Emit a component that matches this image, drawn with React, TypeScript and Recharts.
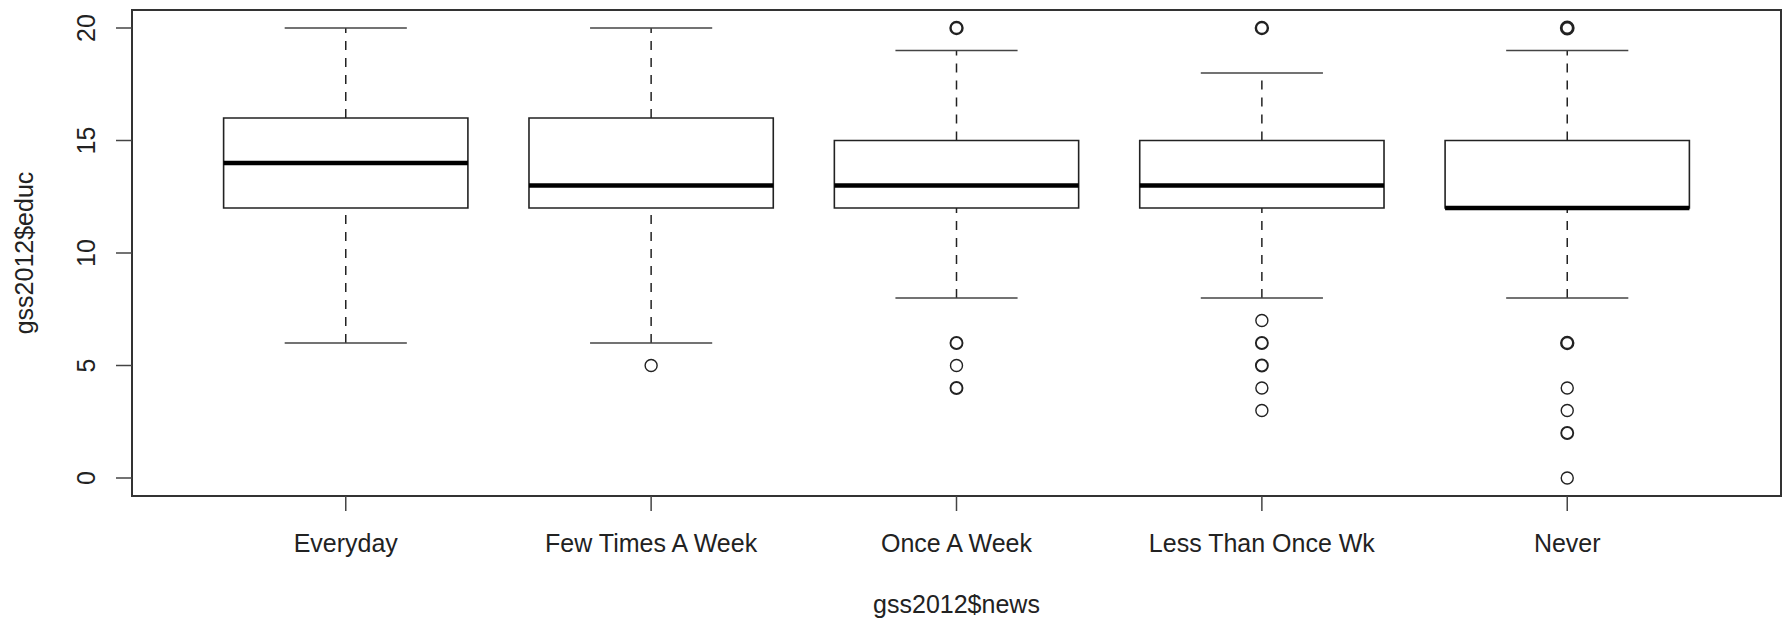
import React from 'react';
import {
  ComposedChart,
  XAxis,
  YAxis,
  Scatter,
  ReferenceArea,
  ReferenceLine,
} from 'recharts';

// five-number summaries
const categories = ['Everyday', 'Few Times A Week', 'Once A Week', 'Less Than Once Wk', 'Never'];
const lowerWhisker = [6, 6, 8, 8, 8];
const q1 = [12, 12, 12, 12, 12];
const medians = [14, 13, 13, 13, 12];
const q3 = [16, 16, 15, 15, 15];
const upperWhisker = [20, 20, 19, 18, 19];
const outliers = [[], [5], [20, 6, 5, 4], [20, 7, 6, 5, 4, 3], [20, 6, 4, 3, 2, 0]];
// how many points sit on top of each other (darker circle)
const outlierCounts = [[], [1], [3, 2, 1, 2], [3, 1, 2, 2, 1, 1], [4, 3, 1, 1, 2, 1]];
const yTicks = [0, 5, 10, 15, 20];

const FONT = '"Liberation Sans", Arial, Helvetica, sans-serif';
const INK = '#222';

const outlierPoints = outliers.flatMap((vals, i) =>
  vals.map((v, j) => ({ x: i + 1, y: v, n: outlierCounts[i][j] }))
);

const OutlierDot = (props: any) => {
  const { cx, cy, payload } = props;
  if (cx == null || cy == null) return null;
  const w = Math.min(1.4 + 0.5 * (payload.n - 1), 2.8);
  return <circle cx={cx} cy={cy} r={6} fill="none" stroke={INK} strokeWidth={w} />;
};

const YTick = (props: any) => {
  const { x, y, payload } = props;
  return (
    <text
      x={x}
      y={y}
      transform={`rotate(-90 ${x} ${y})`}
      textAnchor="middle"
      fontSize={25}
      fontFamily={FONT}
      fill={INK}
    >
      {payload.value}
    </text>
  );
};

export default function App() {
  return (
    <div style={{ width: 1787, height: 619, background: '#fff' }}>
      <style>{'body{margin:0;background:#fff}'}</style>
      <ComposedChart
        width={1787}
        height={619}
        margin={{ top: 10, right: 6, bottom: 0, left: 0 }}
        style={{ fontFamily: FONT }}
      >
        <XAxis
          type="number"
          dataKey="x"
          domain={[0.3, 5.7]}
          ticks={[1, 2, 3, 4, 5]}
          interval={0}
          height={123}
          tickFormatter={(v: number) => categories[v - 1]}
          axisLine={false}
          tickLine={{ stroke: '#444', strokeWidth: 1.5 }}
          tickSize={15}
          tickMargin={23}
          tick={{ fontSize: 25, fill: INK, fontFamily: FONT }}
          label={(p: any) => {
            const vb = p.viewBox;
            return (
              <text
                x={vb.x + vb.width / 2}
                y={vb.y + 117}
                textAnchor="middle"
                fontSize={25}
                fontFamily={FONT}
                fill={INK}
              >
                gss2012$news
              </text>
            );
          }}
        />
        <YAxis
          type="number"
          dataKey="y"
          domain={[-0.8, 20.8]}
          ticks={yTicks}
          interval={0}
          width={132}
          axisLine={false}
          tickLine={{ stroke: '#444', strokeWidth: 1.5 }}
          tickSize={16}
          tickMargin={21}
          tick={<YTick />}
          label={(p: any) => {
            const vb = p.viewBox;
            const cy = vb.y + vb.height / 2;
            return (
              <text
                x={33}
                y={cy}
                transform={`rotate(-90 33 ${cy})`}
                textAnchor="middle"
                fontSize={25}
                fontFamily={FONT}
                fill={INK}
              >
                gss2012$educ
              </text>
            );
          }}
        />

        {/* plot frame */}
        <ReferenceArea
          x1={0.3}
          x2={5.7}
          y1={-0.8}
          y2={20.8}
          fill="none"
          fillOpacity={0}
          stroke="#333"
          strokeWidth={2}
          ifOverflow="visible"
        />

        {categories.map((c, i) => {
          const x = i + 1;
          return (
            <React.Fragment key={c}>
              <ReferenceLine
                segment={[{ x, y: q3[i] }, { x, y: upperWhisker[i] }]}
                stroke={INK}
                strokeWidth={1.5}
                strokeDasharray="9 8"
              />
              <ReferenceLine
                segment={[{ x, y: lowerWhisker[i] }, { x, y: q1[i] }]}
                stroke={INK}
                strokeWidth={1.5}
                strokeDasharray="9 8"
              />
              <ReferenceLine
                segment={[{ x: x - 0.2, y: upperWhisker[i] }, { x: x + 0.2, y: upperWhisker[i] }]}
                stroke="#444"
                strokeWidth={1.6}
              />
              <ReferenceLine
                segment={[{ x: x - 0.2, y: lowerWhisker[i] }, { x: x + 0.2, y: lowerWhisker[i] }]}
                stroke="#444"
                strokeWidth={1.6}
              />
              <ReferenceArea
                x1={x - 0.4}
                x2={x + 0.4}
                y1={q1[i]}
                y2={q3[i]}
                fill="#fff"
                fillOpacity={1}
                stroke={INK}
                strokeWidth={1.6}
              />
              <ReferenceLine
                segment={[{ x: x - 0.4, y: medians[i] }, { x: x + 0.4, y: medians[i] }]}
                stroke="#000"
                strokeWidth={4.5}
              />
            </React.Fragment>
          );
        })}

        <Scatter data={outlierPoints} dataKey="y" shape={<OutlierDot />} isAnimationActive={false} />
      </ComposedChart>
    </div>
  );
}
